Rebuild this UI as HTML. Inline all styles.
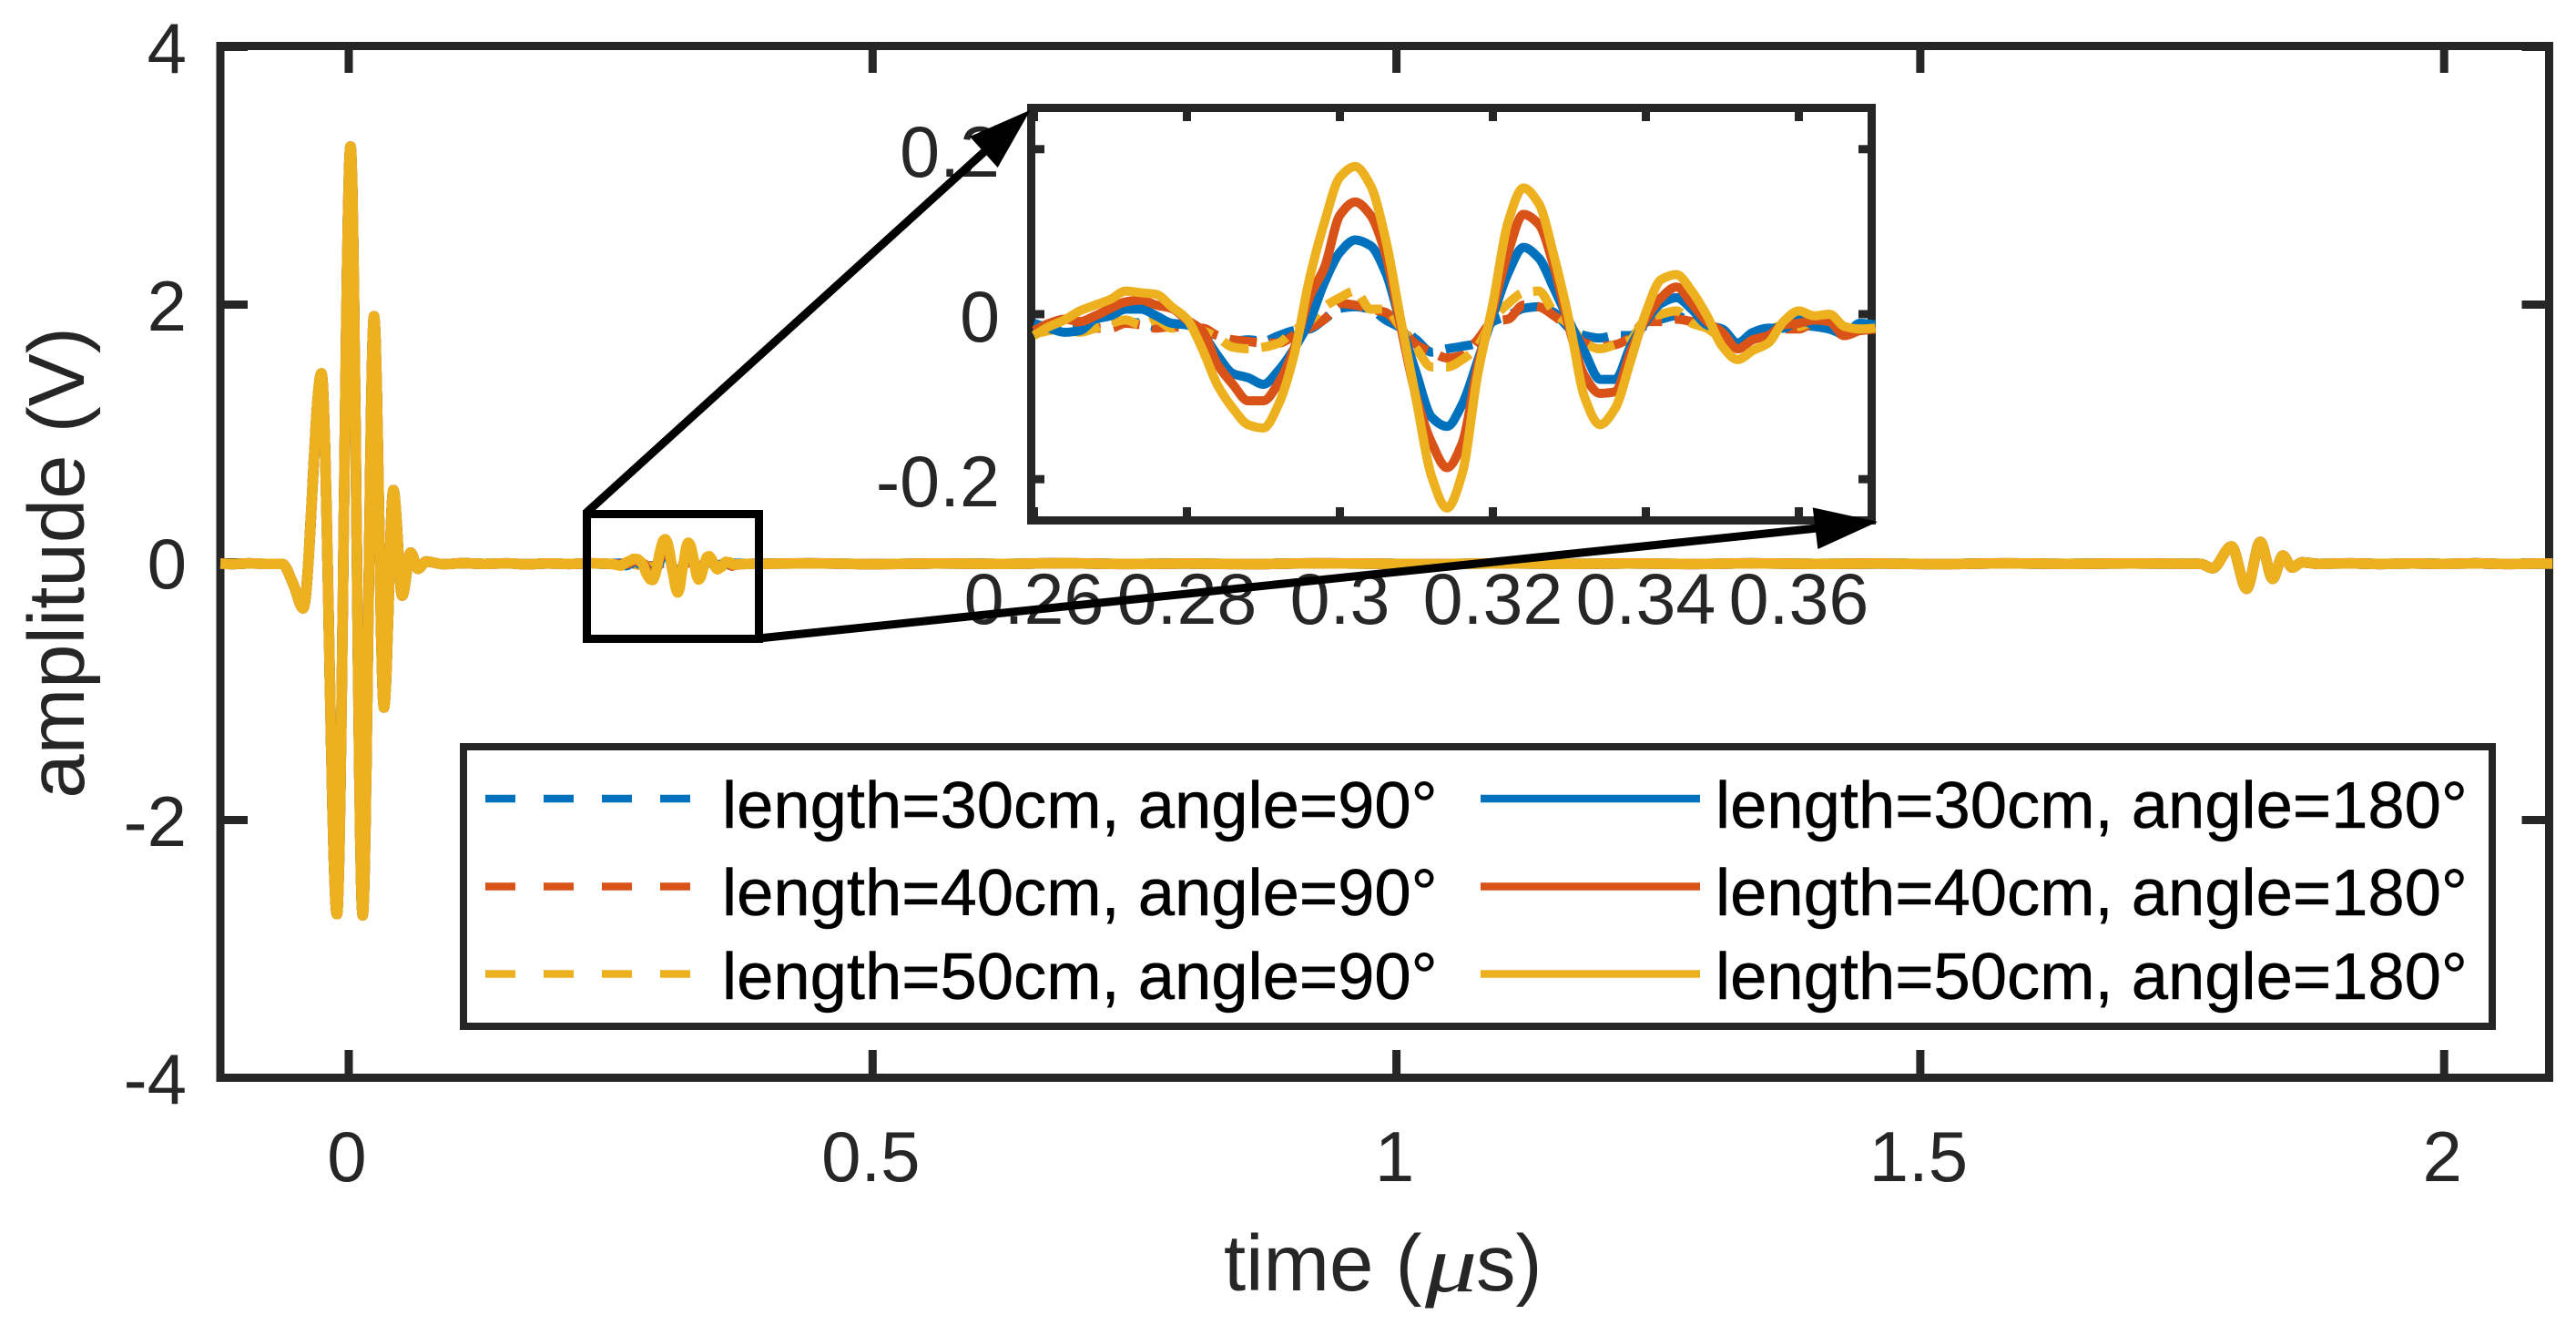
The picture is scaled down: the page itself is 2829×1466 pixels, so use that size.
<!DOCTYPE html>
<html lang="en">
<head>
<meta charset="utf-8">
<title>Amplitude vs time</title>
<style>
html,body{margin:0;padding:0;background:#fff;}
svg{display:block;font-family:"Liberation Sans",Arial,sans-serif;}
</style>
</head>
<body>
<svg id="chart" xmlns="http://www.w3.org/2000/svg" width="2829" height="1466" viewBox="0 0 2829 1466">
  <rect x="0" y="0" width="2829" height="1466" fill="#fff"/>
  <g id="main-axes"></g>
  <g id="main-series"></g>

  <text transform="translate(92 618) rotate(-90)" text-anchor="middle" font-size="87" fill="#262626">amplitude (V)</text>
  <text x="1344" y="1417" font-size="87" fill="#262626">time (<tspan x="1621">s)</tspan></text>
  <text transform="translate(1565 1418) scale(1.3 1)" font-family="'Liberation Serif',serif" font-style="italic" font-size="88" fill="#262626">μ</text>

  <g>
    <rect x="509" y="820" width="2228" height="307" fill="#fff" stroke="#262626" stroke-width="8"/>
    <line x1="533" x2="758" y1="877" y2="877" stroke="#0072BD" stroke-width="8.5" stroke-dasharray="33 31"/>
    <line x1="533" x2="758" y1="973.5" y2="973.5" stroke="#D95319" stroke-width="8.5" stroke-dasharray="33 31"/>
    <line x1="533" x2="758" y1="1069.5" y2="1069.5" stroke="#EDB120" stroke-width="8.5" stroke-dasharray="33 31"/>
    <line x1="1626" x2="1867" y1="877" y2="877" stroke="#0072BD" stroke-width="8.5"/>
    <line x1="1626" x2="1867" y1="973.5" y2="973.5" stroke="#D95319" stroke-width="8.5"/>
    <line x1="1626" x2="1867" y1="1069.5" y2="1069.5" stroke="#EDB120" stroke-width="8.5"/>
    <text x="793" y="909" font-size="72.4" fill="#000" stroke="#000" stroke-width="0.5">length=30cm, angle=90°</text>
    <text x="793" y="1005" font-size="72.4" fill="#000" stroke="#000" stroke-width="0.5">length=40cm, angle=90°</text>
    <text x="793" y="1097" font-size="72.4" fill="#000" stroke="#000" stroke-width="0.5">length=50cm, angle=90°</text>
    <text x="1884" y="909" font-size="72.4" fill="#000" stroke="#000" stroke-width="0.5">length=30cm, angle=180°</text>
    <text x="1884" y="1005" font-size="72.4" fill="#000" stroke="#000" stroke-width="0.5">length=40cm, angle=180°</text>
    <text x="1884" y="1097" font-size="72.4" fill="#000" stroke="#000" stroke-width="0.5">length=50cm, angle=180°</text>
  </g>

  <rect x="644.5" y="564.5" width="189" height="137" fill="none" stroke="#000" stroke-width="9"/>

  <g id="inset-axes"></g>
  <g id="inset-series"></g>

  <g>
    <line x1="644" y1="563" x2="1085" y2="163" stroke="#000" stroke-width="9"/>
    <polygon points="1131.7,120.7 1065,150 1095.7,184" fill="#000"/>
  </g>
  <g>
    <line x1="833" y1="701" x2="1996" y2="580" stroke="#000" stroke-width="9"/>
    <polygon points="2062,573 1990.7,557.4 1996.4,603" fill="#000"/>
  </g>
</svg>

<script>
// ---- shared signal in volts (main panel) ----
const pulseTimes = [-0.1225,-0.11,-0.095,-0.08,-0.0634,-0.0534,-0.0435,-0.0261,-0.0113,0.0017,0.0133,0.0241,0.0336,0.0426,0.051,0.0591,0.0661,0.0739];
const pulseValues = [-0.010,-0.013,-0.008,-0.012,-0.012,-0.16,-0.357,1.466,-2.73,3.226,-2.74,1.91,-1.127,0.56,-0.258,0.076,-0.05,0.006];
const earlyFlatTimes = [0.09,0.11,0.13,0.15,0.17,0.19,0.21,0.23,0.25];
const earlyFlatValues = [-0.014,-0.007,-0.012,-0.008,-0.015,-0.009,-0.013,-0.008,-0.012];
const lateFlatTimes = [0.38,0.44,0.5,0.56,0.62,0.68,0.74,0.8,0.86,0.92,0.98,1.04,1.1,1.16,1.22,1.28,1.34,1.4,1.46,1.52,1.58,1.64,1.7,1.7675];
const lateFlatValues = [-0.012,-0.008,-0.014,-0.009,-0.012,-0.007,-0.013,-0.01,-0.014,-0.008,-0.011,-0.014,-0.008,-0.012,-0.009,-0.013,-0.008,-0.012,-0.01,-0.014,-0.008,-0.012,-0.009,-0.012];
const echoTimes = [1.779,1.797,1.8115,1.8245,1.8364,1.846,1.855,1.8644];
const echoValues = [-0.046,0.124,-0.206,0.159,-0.128,0.053,-0.041,0.0];
const tailTimes = [1.88,1.91,1.94,1.97,2.0,2.03,2.06,2.09,2.1035];
const tailValues = [-0.012,-0.008,-0.013,-0.009,-0.012,-0.008,-0.013,-0.01,-0.01];

// ---- first reflection, per configuration, in millivolts (inset panel) ----
const insetTimes = [0.26,0.262,0.264,0.266,0.268,0.27,0.272,0.274,0.276,0.278,0.28,0.282,0.284,0.286,0.288,0.29,0.292,0.294,0.296,0.298,0.3,0.302,0.304,0.306,0.308,0.31,0.312,0.314,0.316,0.318,0.32,0.322,0.324,0.326,0.328,0.33,0.332,0.334,0.336,0.338,0.34,0.342,0.344,0.346,0.348,0.35,0.352,0.354,0.356,0.358,0.36,0.362,0.364,0.366,0.368,0.37];
const reflection30cm90deg = [-13,-17,-20,-17,-9,-7,-9,-11,-15,-15,-15,-20,-26,-33,-31,-33,-26,-20,-18,-6,7,9,6,-7,-17,-31,-46,-42,-39,-35,-9,-2,7,9,2,-17,-26,-29,-26,-26,-13,-6,-2,-11,-15,-20,-35,-26,-20,-15,-13,-15,-18,-24,-18,-11];
const reflection40cm90deg = [-22,-18,-18,-20,-17,-17,-11,-13,-17,-15,-17,-17,-26,-31,-33,-35,-35,-26,-17,-6,13,11,6,2,-17,-37,-46,-53,-50,-31,-9,-6,11,9,-2,-17,-35,-39,-37,-28,-9,-9,-6,-9,-17,-26,-37,-28,-22,-18,-18,-11,-15,-26,-17,-15];
const reflection50cm90deg = [-24,-20,-18,-22,-17,-11,-7,-13,-7,-17,-13,-20,-28,-40,-42,-40,-35,-20,-9,9,20,28,6,6,-17,-42,-64,-64,-55,-39,-6,13,26,28,2,-13,-35,-42,-37,-31,-6,0,4,-11,-17,-31,-39,-24,-20,-13,-15,-9,-15,-22,-18,-15];
const reflection30cm180deg = [-11,-17,-22,-20,-6,-2,6,6,-2,-11,-13,-24,-50,-72,-77,-85,-68,-42,-9,39,75,90,83,50,-13,-72,-125,-136,-109,-57,-2,50,81,68,31,-9,-46,-79,-79,-39,-9,13,20,6,-13,-18,-35,-22,-17,-17,-7,-13,-18,-24,-11,-13];
const reflection40cm180deg = [-20,-11,-6,-9,-2,7,15,17,11,7,-7,-20,-61,-85,-105,-105,-83,-42,20,57,120,136,120,72,-17,-101,-156,-186,-156,-64,6,75,121,109,57,-17,-75,-96,-94,-46,-6,20,33,13,-9,-22,-42,-31,-26,-13,-11,-7,-9,-26,-20,-18];
const reflection50cm180deg = [-26,-15,-7,4,11,18,28,26,24,9,-6,-42,-86,-114,-134,-138,-109,-50,42,112,166,179,156,90,-9,-105,-197,-235,-193,-74,13,112,153,134,70,-9,-101,-134,-114,-57,2,42,48,28,-2,-39,-55,-44,-35,-9,4,-2,0,-15,-18,-17];

// ---- ticks ----
const mainXTicks = [0,0.5,1,1.5,2];
const mainXLabels = ['0','0.5','1','1.5','2'];
const mainYTicks = [-4,-2,0,2,4];
const mainYLabels = ['-4','-2','0','2','4'];
const insetXTicks = [0.26,0.28,0.3,0.32,0.34,0.36];
const insetXLabels = ['0.26','0.28','0.3','0.32','0.34','0.36'];
const insetYTicks = [-0.2,0,0.2];
const insetYLabels = ['-0.2','0','0.2'];

// ---- axis functions ----
const mainX = t => 383 + t * 1150.6;
const mainY = v => 617.5 - v * 141.5;
const insetX = t => 1135.5 + (t - 0.26) * 8400;
const insetY = v => 345 - v * 906;

const SVGNS = 'http://www.w3.org/2000/svg';
function make(tag, attrs, parent, text) {
  const node = document.createElementNS(SVGNS, tag);
  for (const k in attrs) node.setAttribute(k, attrs[k]);
  if (text !== undefined) node.textContent = text;
  parent.appendChild(node);
  return node;
}

// monotone cubic path: smooth between read points, flat at local extrema
function curvePath(xs, ys) {
  const n = xs.length, slope = [], tan = [];
  for (let i = 0; i < n - 1; i++) slope.push((ys[i + 1] - ys[i]) / (xs[i + 1] - xs[i]));
  tan.push(slope[0]);
  for (let i = 1; i < n - 1; i++) {
    const a = slope[i - 1], b = slope[i];
    tan.push(a * b <= 0 ? 0 : 2 * a * b / (a + b));
  }
  tan.push(slope[n - 2]);
  let d = 'M' + xs[0].toFixed(2) + ' ' + ys[0].toFixed(2);
  for (let i = 0; i < n - 1; i++) {
    const h = (xs[i + 1] - xs[i]) / 3;
    d += 'C' + (xs[i] + h).toFixed(2) + ' ' + (ys[i] + tan[i] * h).toFixed(2) + ' ' +
         (xs[i + 1] - h).toFixed(2) + ' ' + (ys[i + 1] - tan[i + 1] * h).toFixed(2) + ' ' +
         xs[i + 1].toFixed(2) + ' ' + ys[i + 1].toFixed(2);
  }
  return d;
}

const INK = '#262626';
const mainAxes = document.getElementById('main-axes');
const insetAxes = document.getElementById('inset-axes');
const mainSeries = document.getElementById('main-series');
const insetSeries = document.getElementById('inset-series');

// ---- main axes ----
const mainFrame = make('rect', {x: 242, y: 50.5, width: 2557.5, height: 1133, fill: '#fff', stroke: INK, 'stroke-width': 9}, mainAxes);



mainXTicks.forEach((t, i) => {
  const px = mainX(t);
  const bottomTick = make('line', {x1: px, x2: px, y1: 1183.5, y2: 1153, stroke: INK, 'stroke-width': 9}, mainAxes);
  
  
  const topTick = make('line', {x1: px, x2: px, y1: 50.5, y2: 80, stroke: INK, 'stroke-width': 9}, mainAxes);
  
  
  const label = make('text', {x: px - 2, y: 1297, 'text-anchor': 'middle', 'font-size': 78, fill: INK}, mainAxes, mainXLabels[i]);
  
  
});
mainYTicks.forEach((v, i) => {
  const py = mainY(v);
  const leftTick = make('line', {x1: 242, x2: 272, y1: py, y2: py, stroke: INK, 'stroke-width': 9}, mainAxes);
  
  
  const rightTick = make('line', {x1: 2799.5, x2: 2769.5, y1: py, y2: py, stroke: INK, 'stroke-width': 9}, mainAxes);
  
  
  const label = make('text', {x: 205, y: py + 28.5, 'text-anchor': 'end', 'font-size': 78, fill: INK}, mainAxes, mainYLabels[i]);
  
  
});

// ---- inset axes ----
const insetFrame = make('rect', {x: 1132.5, y: 118.5, width: 923, height: 453, fill: '#fff', stroke: INK, 'stroke-width': 9}, insetAxes);



insetXTicks.forEach((t, i) => {
  const px = insetX(t);
  const bottomTick = make('line', {x1: px, x2: px, y1: 571.5, y2: 557, stroke: INK, 'stroke-width': 9}, insetAxes);
  
  
  const topTick = make('line', {x1: px, x2: px, y1: 118.5, y2: 133, stroke: INK, 'stroke-width': 9}, insetAxes);
  
  
  const label = make('text', {x: px, y: 685, 'text-anchor': 'middle', 'font-size': 79, fill: INK}, insetAxes, insetXLabels[i]);
  
  
});
insetYTicks.forEach((v, i) => {
  const py = insetY(v);
  const leftTick = make('line', {x1: 1132.5, x2: 1147, y1: py, y2: py, stroke: INK, 'stroke-width': 9}, insetAxes);
  
  
  const rightTick = make('line', {x1: 2055.5, x2: 2041, y1: py, y2: py, stroke: INK, 'stroke-width': 9}, insetAxes);
  
  
  const label = make('text', {x: 1098, y: py + 30, 'text-anchor': 'end', 'font-size': 79, fill: INK}, insetAxes, insetYLabels[i]);
  
  
});

// ---- series ----
const seriesNames = ['30cm-90deg','40cm-90deg','50cm-90deg','30cm-180deg','40cm-180deg','50cm-180deg'];
const seriesColors = ['#0072BD','#D95319','#EDB120','#0072BD','#D95319','#EDB120'];
const seriesReflections = [reflection30cm90deg,reflection40cm90deg,reflection50cm90deg,reflection30cm180deg,reflection40cm180deg,reflection50cm180deg];

seriesNames.forEach((name, i) => {
  const dashed = i < 3;
  const volts = seriesReflections[i].map(mv => mv / 1000);
  const times = [].concat(pulseTimes, earlyFlatTimes, insetTimes, lateFlatTimes, echoTimes, tailTimes);
  const values = [].concat(pulseValues, earlyFlatValues, volts, lateFlatValues, echoValues, tailValues);

  const mainLine = make('path', {
    d: curvePath(times.map(mainX), values.map(mainY)),
    fill: 'none', stroke: seriesColors[i], 'stroke-width': 11.5, 'stroke-linejoin': 'round', 'stroke-linecap': 'butt',
    'stroke-dasharray': dashed ? '33 31' : 'none'
  }, mainSeries);
  
  

  const insetLine = make('path', {
    d: curvePath(insetTimes.map(insetX), volts.map(insetY)),
    fill: 'none', stroke: seriesColors[i], 'stroke-width': 10, 'stroke-linejoin': 'round', 'stroke-linecap': 'butt',
    'stroke-dasharray': dashed ? '30 14' : 'none'
  }, insetSeries);
  
  
});
</script>
</body>
</html>
